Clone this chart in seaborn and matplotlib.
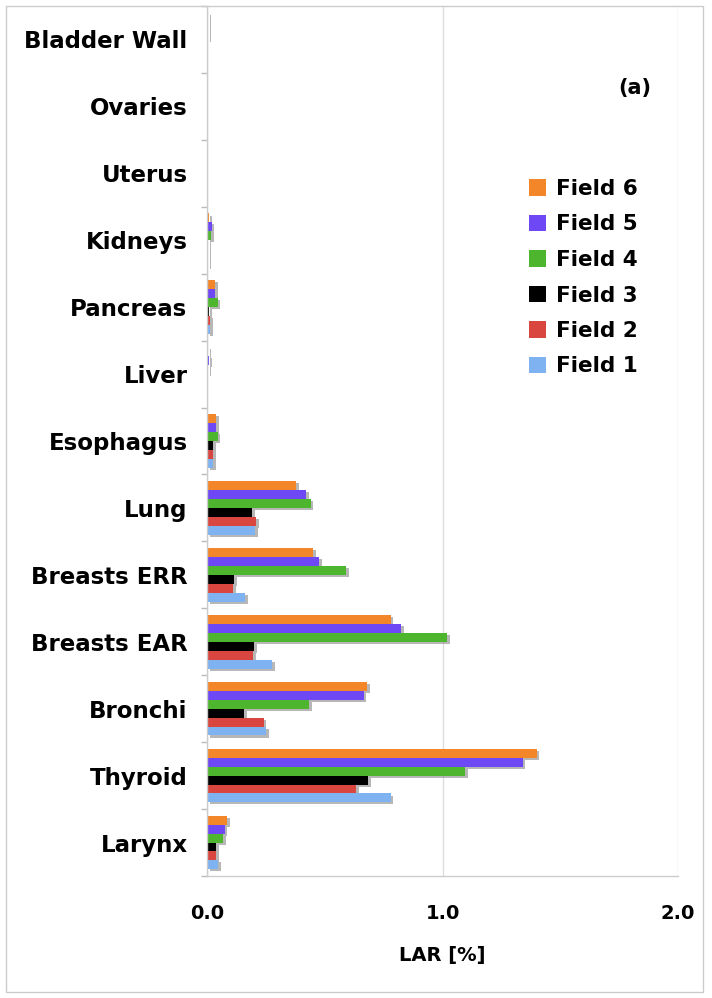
import numpy as np
import pandas as pd
import seaborn as sns
import matplotlib
matplotlib.use("Agg")
import matplotlib.pyplot as plt
from matplotlib import patheffects
from matplotlib.patches import Rectangle, Patch

# LAR [%] per organ and field
organs = ["Bladder Wall", "Ovaries", "Uterus", "Kidneys", "Pancreas", "Liver",
          "Esophagus", "Lung", "Breasts ERR", "Breasts EAR", "Bronchi",
          "Thyroid", "Larynx"]
field6 = [0.004, 0.0, 0.0, 0.010, 0.035, 0.005, 0.040, 0.380, 0.450, 0.780, 0.680, 1.400, 0.085]
field5 = [0.006, 0.0, 0.0, 0.020, 0.035, 0.010, 0.040, 0.420, 0.475, 0.825, 0.665, 1.340, 0.075]
field4 = [0.004, 0.0, 0.0, 0.017, 0.045, 0.005, 0.045, 0.440, 0.590, 1.020, 0.435, 1.095, 0.070]
field3 = [0.002, 0.0, 0.0, 0.005, 0.010, 0.002, 0.025, 0.190, 0.115, 0.200, 0.157, 0.685, 0.040]
field2 = [0.002, 0.0, 0.0, 0.005, 0.013, 0.002, 0.025, 0.210, 0.110, 0.195, 0.240, 0.633, 0.040]
field1 = [0.002, 0.0, 0.0, 0.005, 0.013, 0.002, 0.025, 0.205, 0.162, 0.277, 0.250, 0.780, 0.047]

fields = ["Field 6", "Field 5", "Field 4", "Field 3", "Field 2", "Field 1"]
colors = ["#F4862A", "#6E48F5", "#4DB52E", "#000000", "#D9463F", "#7FB2F0"]

df = pd.DataFrame({"organ": organs, "Field 6": field6, "Field 5": field5,
                   "Field 4": field4, "Field 3": field3, "Field 2": field2,
                   "Field 1": field1})
df = df.melt(id_vars="organ", var_name="field", value_name="lar")

sns.set_theme(style="white")
plt.rcParams["font.family"] = ["DejaVu Sans"]
plt.rcParams["font.weight"] = "bold"
plt.rcParams["text.color"] = "black"
plt.rcParams["axes.labelcolor"] = "black"
plt.rcParams["xtick.color"] = "black"
plt.rcParams["ytick.color"] = "black"

fig = plt.figure(figsize=(7.12, 9.98), dpi=100)
ax = fig.add_axes([207 / 712, 1 - 876 / 998, (678 - 207) / 712, (876 - 6) / 998])

sns.barplot(data=df, y="organ", x="lar", hue="field", order=organs,
            hue_order=fields, palette=colors, orient="h", width=0.8,
            saturation=1, linewidth=0, legend=False, ax=ax)

# soft grey drop shadow like the original
for p in ax.patches:
    p.set_path_effects([patheffects.SimplePatchShadow(offset=(2, -1.5), shadow_rgbFace="#888888", alpha=0.6),
                        patheffects.Normal()])

ax.set_xlim(0, 2.0)
ax.set_ylim(len(organs) - 0.5, -0.5)
ax.set_xticks([0.0, 1.0, 2.0])
ax.set_xticklabels(["0.0", "1.0", "2.0"], fontsize=14, fontweight="bold")
ax.set_yticks(np.arange(len(organs)))
ax.set_yticklabels(organs, fontsize=16.5, fontweight="bold")
ax.set_yticks(np.arange(-0.5, len(organs), 1), minor=True)
ax.tick_params(axis="y", which="major", length=0, pad=14)
ax.tick_params(axis="y", which="minor", length=4, color="#BBBBBB", width=1, left=True)
ax.tick_params(axis="x", length=0, pad=20)
ax.set_xlabel("LAR [%]", fontsize=14, fontweight="bold", labelpad=17)
ax.set_ylabel("")

ax.xaxis.grid(True, color="#DDDDDD", linewidth=1)
ax.set_axisbelow(True)
for side in ["top", "right"]:
    ax.spines[side].set_visible(False)
for side in ["left", "bottom"]:
    ax.spines[side].set_color("#CCCCCC")
    ax.spines[side].set_linewidth(1)

handles = [Patch(facecolor=c, edgecolor="none") for c in colors]
fig.legend(handles, fields, loc="upper left", bbox_to_anchor=(529 / 712, 1 - 179 / 998),
           frameon=False, prop={"weight": "bold", "size": 15.5},
           handlelength=0.8, handleheight=0.8, handletextpad=0.45,
           labelspacing=0.72, borderpad=0, borderaxespad=0)

fig.text(635 / 712, 1 - 88 / 998, "(a)", fontsize=15, fontweight="bold",
         ha="center", va="center")

fig.add_artist(Rectangle((6 / 712, 6 / 998), (703 - 6) / 712, (992 - 6) / 998,
                         transform=fig.transFigure, fill=False,
                         edgecolor="#CCCCCC", linewidth=1))

fig.savefig("out.png", dpi=100)
